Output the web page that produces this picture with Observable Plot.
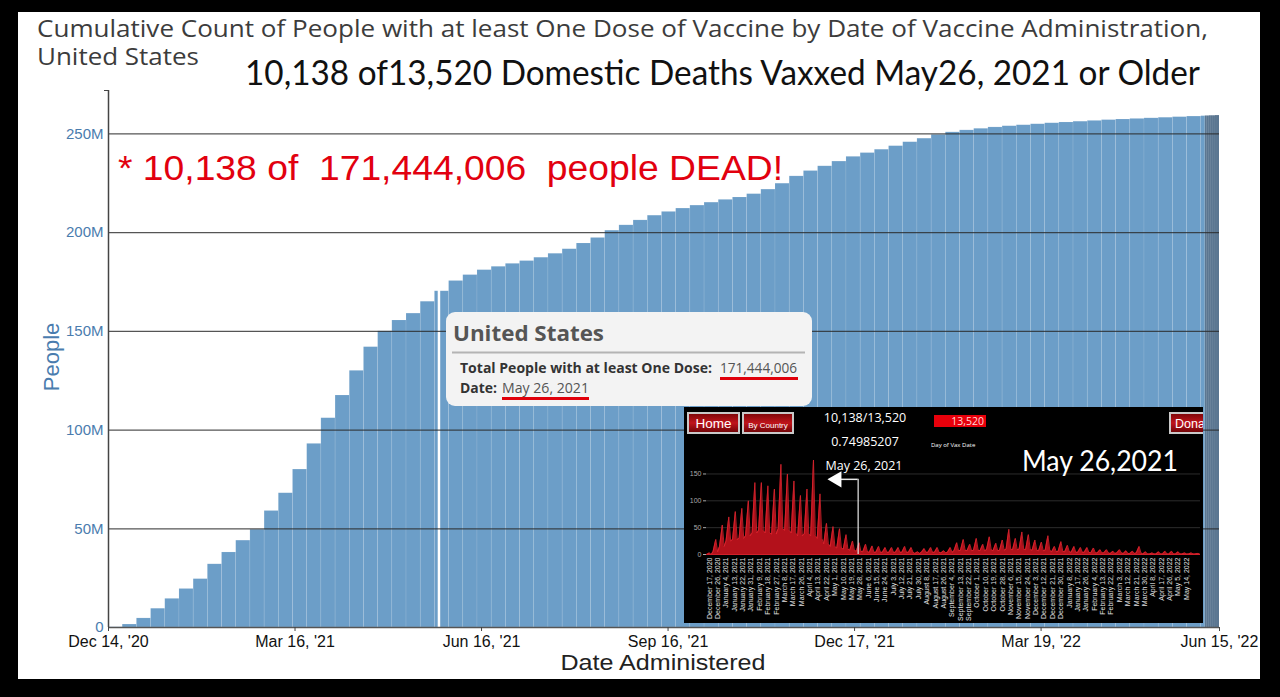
<!DOCTYPE html>
<html><head><meta charset="utf-8">
<script src="https://cdn.jsdelivr.net/npm/d3@7"></script>
<script src="https://cdn.jsdelivr.net/npm/@observablehq/plot@0.6"></script>
<style>
html,body{margin:0;padding:0;background:#000;width:1280px;height:697px;overflow:hidden;}
#panel{position:absolute;left:18px;top:12px;width:1242px;height:667px;background:#fff;}
#main{position:absolute;left:0;top:0;}
#overlay{position:absolute;left:0;top:0;}
#inset{position:absolute;left:684px;top:407px;width:519px;height:216px;background:#000;overflow:hidden;}
#inset > *{position:absolute;left:0;top:0;}
</style></head><body>
<div id="panel"></div>
<div id="main"></div>
<svg id="overlay" width="1280" height="697"></svg>
<div id="inset"></div>
<script>
// ---------- main chart data (millions of people, weekly readings) ----------
const cumulativeWeekStart = "2020-12-14";
const cumulativeMillions = [
  0.1, 1.5, 4.6, 9.5, 14.5, 19.5, 24.5, 32, 38, 44, 49.5, 59, 68, 80, 93, 106,
  117.5, 130, 142, 150, 155.5, 159, 165, 170.3, 175.5, 178.5, 181, 182.7, 184.2,
  185.6, 187.3, 189.3, 191.6, 194.5, 197.3, 201, 203.7, 206.2, 208.6, 210.5,
  212.2, 213.7, 215.2, 216.6, 217.8, 219.5, 221.8, 224.8, 228.5, 231.2, 233.6,
  236, 238.4, 240.3, 242, 243.8, 245.8, 247.6, 249.5, 250.8, 251.8, 252.6,
  253.3, 253.9, 254.4, 254.9, 255.4, 255.8, 256.2, 256.6, 257, 257.3, 257.6,
  257.9, 258.2, 258.5, 258.8, 259.0
];
const recentStart = "2022-06-08";
const recentMillions = [259.1, 259.1, 259.2, 259.2, 259.2, 259.3, 259.3];
const highlightDate = "2021-05-26";
const highlightPeople = 171444006;
const xTickDates = ["2020-12-14", "2021-03-16", "2021-06-16", "2021-09-16", "2021-12-17", "2022-03-19", "2022-06-15"];
const yTicks = [0, 50e6, 100e6, 150e6, 200e6, 250e6];
const yMaxPeople = 272e6;

// ---------- inset chart data (deaths, weekly peak / trough readings) ----------
const deathWeekStart = "2020-12-14";
const deathPeaks = [3,28,55,70,80,86,100,134,134,128,
  122,168,150,137,110,122,176,113,58,52,
  48,37,25,22,19,16,15,13,13,13,
  15,13,5,11,13,13,7,13,22,28,
  19,30,19,33,21,27,47,30,42,37,
  27,23,35,15,24,17,15,13,13,12,
  9,9,6,9,7,6,15,5,3,5,
  6,6,5,3,3,2];
const deathLows = [0,5,15,25,28,30,35,40,45,40,
  38,48,45,40,35,38,35,30,20,15,
  12,10,8,6,5,4,4,4,4,4,
  4,4,2,4,4,4,3,4,7,8,
  7,8,7,9,7,8,10,9,10,9,
  8,7,8,5,6,5,4,4,4,3,
  3,3,2,3,2,2,3,1,1,1,
  1,1,1,1,1,1];
const insetDomain = ["2020-12-14", "2022-05-29"];
const insetTickStart = "2020-12-17", insetTickEnd = "2022-05-20", insetTickStepDays = 9;
const insetYTicks = [0, 50, 100, 150];
const arrowTipDate = "2021-05-03", arrowLevel = 140;

// ---------- build ----------
const parse = d3.utcParse("%Y-%m-%d");
const day = d3.utcDay;
const cumStart = parse(cumulativeWeekStart);
const weekly = cumulativeMillions.map((v, i) => ({x1: day.offset(cumStart, 7 * i), people: v * 1e6}));
weekly.forEach((d, i) => { d.x2 = i < weekly.length - 1 ? weekly[i + 1].x1 : parse(recentStart); });
const recent = recentMillions.map((v, i) => ({x1: day.offset(parse(recentStart), i), x2: day.offset(parse(recentStart), i + 1), people: v * 1e6}));
const xTicks = xTickDates.map(parse);

const main = Plot.plot({
  width: 1280, height: 697, marginLeft: 108, marginRight: 61, marginTop: 90, marginBottom: 70,
  style: {background: "transparent", fontFamily: "'Liberation Sans', Arial, sans-serif", overflow: "visible"},
  x: {type: "utc", domain: [xTicks[0], xTicks[xTicks.length - 1]]},
  y: {domain: [0, yMaxPeople]},
  marks: [
    Plot.rectY(weekly, {x1: "x1", x2: "x2", y1: 0, y2: "people", fill: "#6c9ec8", stroke: "#ffffff", strokeOpacity: 0.16, strokeWidth: 0.6, clip: true}),
    Plot.rectY(recent, {x1: "x1", x2: "x2", y1: 0, y2: "people", fill: "#5b7691", clip: true}),
    Plot.ruleX([{date: parse(highlightDate), people: highlightPeople}], {x: "date", y1: 0, y2: "people", stroke: "#ffffff", strokeWidth: 2.5}),
    Plot.ruleY(yTicks.filter(d => d > 0), {stroke: "#2b2b2b", strokeOpacity: 0.8, strokeWidth: 1.3}),
    Plot.ruleY([0], {stroke: "#555", strokeWidth: 1.5}),
    Plot.ruleX([xTicks[0]], {y1: 0, y2: yMaxPeople, stroke: "#444", strokeWidth: 1.5}),
    Plot.axisY({ticks: yTicks, tickFormat: d => d === 0 ? "0" : (d / 1e6) + "M", tickSize: 0, tickPadding: 5, fontSize: 15, color: "#4a7cae", fill: "#4a7cae", label: null}),
    Plot.axisY({ticks: [yMaxPeople], tickFormat: () => "", tickSize: 4, stroke: "#444", label: null}),
    Plot.axisX({ticks: xTicks, tickFormat: d3.utcFormat("%b %-d, '%y"), tickSize: 4, tickPadding: 4, fontSize: 16, color: "#111", fill: "#111", stroke: "#444", label: null})
  ]
});
document.getElementById("main").append(main);

// ---------- overlay texts ----------
const ov = d3.select("#overlay");
function txt(sel, s, o) {
  const t = sel.append("text").text(s).attr("x", o.x).attr("y", o.y)
    .attr("font-family", o.font || "'Open Sans', sans-serif").attr("font-size", o.size)
    .attr("fill", o.fill || "#000").attr("font-weight", o.weight || "normal");
  if (o.len) t.attr("textLength", o.len).attr("lengthAdjust", "spacingAndGlyphs");
  if (o.anchor) t.attr("text-anchor", o.anchor);
  if (o.transform) t.attr("transform", o.transform);
  t.attr("xml:space", "preserve").style("white-space", "pre");
  return t;
}
txt(ov, "Cumulative Count of People with at least One Dose of Vaccine by Date of Vaccine Administration,", {x: 37, y: 37, size: 24, fill: "#3c3c3c", len: 1171});
txt(ov, "United States", {x: 37, y: 65, size: 24, fill: "#3c3c3c", len: 162});
txt(ov, "10,138 of13,520 Domestic Deaths Vaxxed May26, 2021 or Older", {x: 245, y: 85, size: 34, fill: "#111", font: "Lato, sans-serif", len: 955});
txt(ov, "* 10,138 of  171,444,006  people DEAD!", {x: 118, y: 180, size: 35, fill: "#e2000f", font: "'Liberation Sans', Arial, sans-serif", len: 665});
txt(ov, "People", {x: 0, y: 0, size: 22, fill: "#4a7cae", font: "'Liberation Sans', Arial, sans-serif", anchor: "middle", transform: "translate(59,357) rotate(-90)"});
txt(ov, "Date Administered", {x: 663, y: 670, size: 22, fill: "#222", font: "'Liberation Sans', Arial, sans-serif", anchor: "middle", len: 205});

// tooltip
ov.append("rect").attr("x", 446).attr("y", 312).attr("width", 366).attr("height", 94).attr("rx", 9).attr("fill", "#f3f3f3");
txt(ov, "United States", {x: 453, y: 341, size: 22, weight: "bold", fill: "#555", len: 151});
ov.append("line").attr("x1", 452).attr("x2", 805).attr("y1", 352.5).attr("y2", 352.5).attr("stroke", "#b4b4b4").attr("stroke-width", 2);
txt(ov, "Total People with at least One Dose:", {x: 460, y: 373, size: 14.5, weight: "bold", fill: "#333", len: 252});
txt(ov, "171,444,006", {x: 720, y: 373, size: 14.5, fill: "#555", len: 77});
ov.append("rect").attr("x", 720).attr("y", 377).attr("width", 78).attr("height", 3).attr("fill", "#e0000b");
txt(ov, "Date:", {x: 460, y: 393, size: 14.5, weight: "bold", fill: "#333", len: 37});
txt(ov, "May 26, 2021", {x: 502, y: 393, size: 14.5, fill: "#555", len: 87});
ov.append("rect").attr("x", 502).attr("y", 397).attr("width", 87).attr("height", 3).attr("fill", "#e0000b");

// ---------- inset ----------
const dStart = parse(deathWeekStart);
const deathPoints = deathPeaks.flatMap((p, i) => {
  const w = day.offset(dStart, 7 * i);
  return [{date: w, deaths: deathLows[i]}, {date: day.offset(w, 3), deaths: p}, {date: day.offset(w, 5), deaths: deathLows[i]}];
});
const insetTicks = d3.utcDay.range(parse(insetTickStart), day.offset(parse(insetTickEnd), 1), insetTickStepDays);
const marker = parse(highlightDate), tip = parse(arrowTipDate);
const inset = Plot.plot({
  width: 519, height: 216, marginLeft: 22, marginRight: 3, marginTop: 45, marginBottom: 69,
  style: {background: "transparent", fontFamily: "'Liberation Sans', Arial, sans-serif", overflow: "visible"},
  x: {type: "utc", domain: insetDomain.map(parse)},
  y: {domain: [0, 190]},
  marks: [
    Plot.ruleY(insetYTicks.filter(d => d > 0), {stroke: "#2c2c2c", strokeWidth: 1}),
    Plot.areaY(deathPoints, {x: "date", y1: 0, y2: "deaths", fill: "#b3111b"}),
    Plot.lineY(deathPoints, {x: "date", y: "deaths", stroke: "#df2630", strokeWidth: 0.8}),
    Plot.ruleY([0], {stroke: "#d0202a", strokeWidth: 1.2}),
    Plot.ruleX([marker], {y1: 0, y2: arrowLevel, stroke: "#e8e8e8", strokeWidth: 1.2}),
    Plot.ruleY([arrowLevel], {x1: tip, x2: marker, stroke: "#e8e8e8", strokeWidth: 1.5}),
    Plot.dot([{date: tip, v: arrowLevel}], {x: "date", y: "v", symbol: "triangle", r: 6, fill: "#fff", rotate: -90}),
    Plot.axisY({ticks: insetYTicks, tickSize: 3, tickPadding: 2, fontSize: 7, color: "#aaa", fill: "#aaa", stroke: "#aaa", label: null}),
    Plot.axisX({ticks: insetTicks, tickFormat: d3.utcFormat("%B %-d, %Y"), tickRotate: -90, tickSize: 0, tickPadding: 3, fontSize: 7, color: "#e0e0e0", fill: "#e0e0e0", label: null})
  ]
});
document.getElementById("inset").append(inset);

const isv = d3.select("#inset").append("svg").attr("width", 519).attr("height", 216);
const defs = isv.append("defs");
const g = defs.append("linearGradient").attr("id", "btn").attr("x1", 0).attr("x2", 0).attr("y1", 0).attr("y2", 1);
g.append("stop").attr("offset", "0%").attr("stop-color", "#7a0508");
g.append("stop").attr("offset", "50%").attr("stop-color", "#c0141b");
g.append("stop").attr("offset", "100%").attr("stop-color", "#6a0306");
function btn(x, w, label, size, tx, anchor) {
  isv.append("rect").attr("x", x).attr("y", 6).attr("width", w).attr("height", 20).attr("fill", "url(#btn)").attr("stroke", "#c9c9c9").attr("stroke-width", 2);
  txt(isv, label, {x: tx, y: 20.5, size: size, fill: "#fff", font: "'Liberation Sans', Arial, sans-serif", anchor: anchor});
}
btn(4, 51, "Home", 13.5, 29.5, "middle");
btn(59, 50, "By Country", 8, 84, "middle");
btn(486, 60, "Donate", 12.5, 491, "start");
txt(isv, "10,138/13,520", {x: 181, y: 15, size: 12.5, fill: "#fff", anchor: "middle"});
txt(isv, "0.74985207", {x: 181, y: 39, size: 12.5, fill: "#fff", anchor: "middle"});
txt(isv, "May 26, 2021", {x: 180, y: 63, size: 12.5, fill: "#fff", anchor: "middle"});
isv.append("rect").attr("x", 250).attr("y", 8).attr("width", 52).attr("height", 12).attr("fill", "#e8000b");
txt(isv, "13,520", {x: 300, y: 18, size: 10.5, fill: "#ffd8d8", anchor: "end"});
txt(isv, "Day of Vax Date", {x: 247, y: 40, size: 6, fill: "#fff"});
txt(isv, "May 26,2021", {x: 338, y: 64, size: 28, fill: "#fff", font: "Lato, sans-serif", len: 156});
</script></body></html>
